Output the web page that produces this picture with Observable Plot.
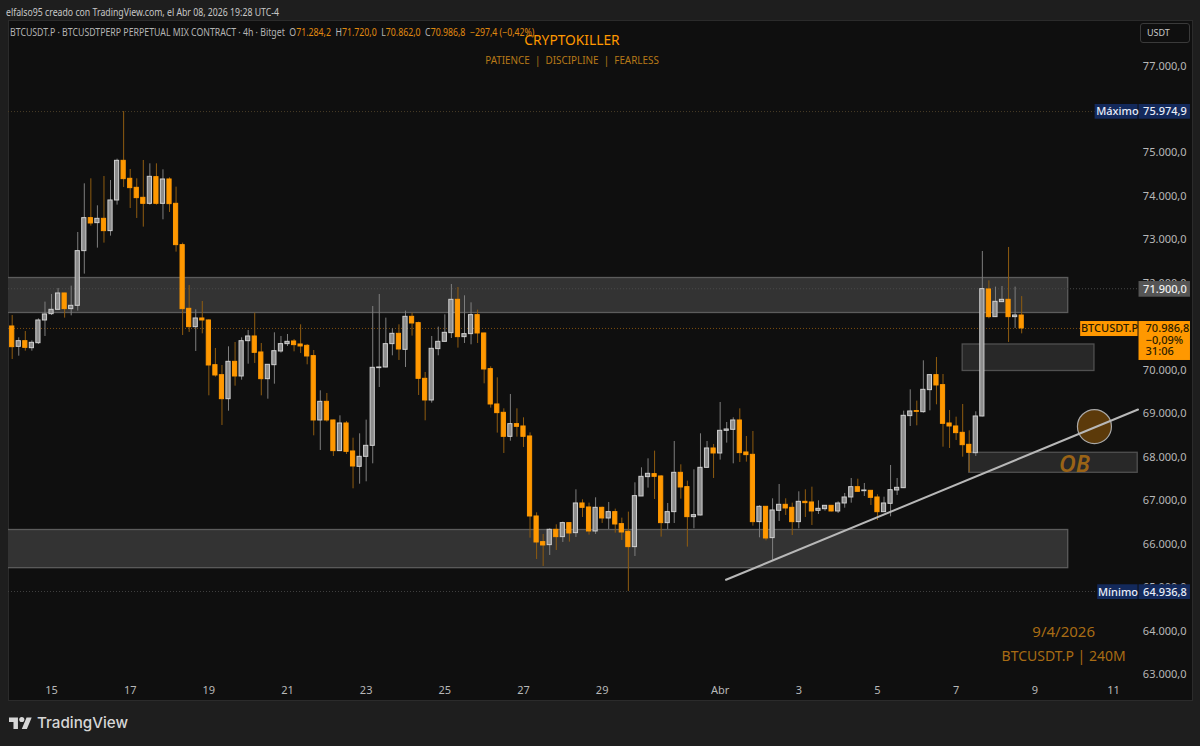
<!DOCTYPE html>
<html lang="es">
<head>
<meta charset="utf-8">
<script src="https://cdn.jsdelivr.net/npm/d3@7"></script>
<script src="https://cdn.jsdelivr.net/npm/@observablehq/plot@0.6"></script>
<style>
html,body{margin:0;padding:0;background:#1e1e1e;width:1200px;height:746px;overflow:hidden;font-family:"Noto Sans",sans-serif}
#chart{position:absolute;left:0;top:0}
.o{position:absolute;white-space:nowrap}
#made{left:6px;top:5px;font-size:10.4px;color:#c8c8c8;transform:scaleX(.84);transform-origin:left center}
#legend{left:10px;top:25px;font-size:10px;color:#b4b4b4;transform:scaleX(.875);transform-origin:left center}
#legend b{font-weight:400;color:#e08a10}
#title{left:472px;width:200px;text-align:center;top:30px;font-size:14.2px;color:#ff9800;transform:scaleX(.97)}
#sub{left:472px;width:200px;text-align:center;top:53px;font-size:10.4px;color:#b87a18;transform:scaleX(.95)}
#usdt{left:1140px;top:23px;width:48px;height:18px;border:1px solid #3a3a3a;border-radius:3px;font-size:9px;color:#c8c8c8;line-height:18px;text-indent:6px}
#logo{left:9px;top:715px}
#brand{left:37px;top:713px;font-size:15.2px;font-weight:500;color:#d6d6d6;font-family:Inter,"Noto Sans",sans-serif}
</style>
</head>
<body>
<div id="chart"></div>
<div class="o" id="made">elfalso95 creado con TradingView.com, el Abr 08, 2026 19:28 UTC-4</div>
<div class="o" id="legend">BTCUSDT.P · BTCUSDTPERP PERPETUAL MIX CONTRACT · 4h · Bitget &nbsp;O<b>71.284,2</b> &nbsp;H<b>71.720,0</b> &nbsp;L<b>70.862,0</b> &nbsp;C<b>70.986,8</b> &nbsp;<b>−297,4 (−0,42%)</b></div>
<div class="o" id="title">CRYPTOKILLER</div>
<div class="o" id="sub">PATIENCE &nbsp;|&nbsp; DISCIPLINE &nbsp;|&nbsp; FEARLESS</div>
<div class="o" id="usdt">USDT</div>
<svg class="o" id="logo" width="23" height="18" viewBox="0 0 36 28"><path fill="#d6d6d6" d="M14 22H7V11H0V4h14v18zM28 22h-8l7.5-18h8L28 22z"/><circle fill="#d6d6d6" cx="20" cy="7" r="4"/></svg>
<div class="o" id="brand">TradingView</div>
<script>
const opens = [71032,70564,70694,70533,70648,71170,71315,71415,71791,71431,
71507,72765,73524,73409,73508,73225,73930,74842,74428,74221,
73991,73853,74467,73853,74413,73853,72903,71438,71016,71216,
71170,70142,69912,69360,70219,69882,70694,70802,70434,69820,
70142,70457,70626,70687,70618,70587,70350,68870,69299,68870,
68165,68801,68157,67804,68034,68287,70074,70089,70626,70863,
70495,71254,71109,69828,69330,70511,70679,70879,71645,70787,
70856,71293,70871,70051,69238,69046,68494,68786,68732,68502,
66662,66072,66003,66355,66187,66509,66279,66961,66869,66317,
66861,66616,66762,66486,66309,65957,67122,67567,67636,67582,
66509,66762,67666,67337,66647,66685,67781,68226,68111,68632,
68655,68870,68134,68080,66532,66884,66164,66792,66930,66861,
66532,66999,66984,66792,66830,66907,66777,66961,67099,67336,
67244,67252,67099,66761,66953,67260,67313,68970,69085,69061,
69568,69913,69683,68801,68732,68586,68310,68118,68962,71883,
71247,71592,71645,71247,71284.2];
const highs = [71285,70771,70917,70702,71208,71592,71768,71906,71798,71960,
73194,74313,74428,73807,74482,74390,74881,75974.9,74643,74428,
74850,74773,74773,74635,74451,74237,72949,71975,71415,71607,
71185,70526,70135,70564,70664,70771,70940,71339,70641,70150,
70886,70802,70848,70733,71070,70618,70480,69552,69491,68878,
68977,68847,68463,68563,68878,71492,71768,71224,70978,71070,
71385,71339,71132,69974,70802,71017,71300,71998,71929,71737,
71576,71408,70879,70104,69851,69138,69468,69138,68931,68586,
66746,66248,66378,66470,66532,66516,67275,67045,66969,67091,
66877,66984,66831,66624,66762,67436,67781,67988,68165,67605,
66961,68387,67850,67475,67735,68563,68387,68318,69284,68824,
68931,69138,68502,68617,66907,66892,67068,67398,67068,66969,
67229,67275,67336,67022,66915,66907,66999,67191,67536,67520,
67421,67260,67160,67106,67835,67536,69085,69575,69315,70242,
69920,70319,69928,69100,68946,69238,68632,69069,72757,72082,
71937,71952,72849,71937,71720];
const lows = [70273,70349,70464,70464,70618,70802,71285,71400,71224,71277,
71385,72236,73340,72834,72949,73110,73823,74229,73746,73516,
73317,73823,73823,73485,73654,72742,70825,70894,70457,70863,
69437,69866,68755,69084,69659,69797,70165,70181,69437,69360,
69705,70419,70572,70449,70411,70150,68517,68180,68832,68042,
68165,68088,67298,67405,67459,67873,69629,70081,70357,70250,
70089,70810,69445,68862,69269,70357,70672,70756,70534,70641,
70610,70641,69713,69154,68579,68111,68394,68486,68249,66163,
65673,65512,65765,65880,66064,66072,66179,66639,66233,66248,
66501,66363,66279,66110,64936.8,65742,67122,67314,67053,66187,
66363,66501,67061,65957,66378,66677,67774,67536,67958,68349,
67873,67904,67912,66440,66171,66102,65650,66547,66685,66225,
66378,66639,66455,66708,66784,66769,66731,66853,66968,67221,
67122,66915,66570,66754,66654,67145,67306,68732,68747,69038,
69092,69230,68256,68226,68410,68026,67674,68042,68954,71208,
71239,71584,70664,70986,70862];
const closes = [70556,70694,70541,70656,71170,71308,71415,71791,71431,71507,
72765,73524,73401,73508,73225,73930,74842,74421,74214,73984,
73853,74474,73853,74413,73846,72903,71431,71016,71216,71170,
70135,69905,69360,70219,69882,70694,70802,70426,69820,70150,
70464,70626,70679,70603,70572,70342,68870,69299,68870,68165,
68801,68149,67812,68034,68287,70081,70089,70626,70863,70503,
71254,71101,69828,69330,70518,70679,70886,71645,70787,70856,
71293,70871,70043,69238,69039,68494,68786,68724,68494,66662,
66064,65995,66355,66187,66509,66271,66961,66861,66317,66861,
66616,66762,66478,66294,65957,67130,67574,67643,67574,66509,
66762,67666,67329,66647,66693,67781,68226,68111,68632,68663,
68870,68119,68073,66532,66884,66156,66800,66930,66846,66532,
66999,66969,66777,66838,66907,66777,66961,67099,67336,67229,
67260,67091,66761,66961,67267,67321,68977,69077,69069,69575,
69913,69675,68793,68732,68579,68302,68126,68962,71891,71247,
71599,71645,71247,71285,70986.8];

const dayTicks = [6,18,30,42,54,66,78,90,102,108,120,132,144,156,168];
const dayLabels = ["15","17","19","21","23","25","27","29","31","Abr","3","5","7","9","11"];
const shownDays = dayTicks.filter(t => t !== 102);
const priceTicks = [63000,64000,65000,66000,67000,68000,69000,70000,71000,72000,73000,74000,75000,76000,77000];

const highPrice = 75974.9, lowPrice = 64936.8, lastPrice = 70986.8, markedPrice = 71900;

const zones = [
  {x1:-3, x2:161.1, y1:71342, y2:72147, fill:"#333333", stroke:"#5c5c5c"},
  {x1:-3, x2:161.1, y1:65473, y2:66351, fill:"#333333", stroke:"#5c5c5c"},
  {x1:145.0, x2:165.1, y1:70008, y2:70618, fill:"#282828", stroke:"#505050"},
  {x1:146.0, x2:171.7, y1:67667, y2:68127, fill:"#282828", stroke:"#505050"}
];
const trend = [{x:108.9, y:65206},{x:171.75, y:69122}];
const circlePoint = [{x:165.1, y:68730}];

const tags = [
  {x1:165.2, x2:171.75, y1:75799, y2:76138, fill:"#13295b"},
  {x1:171.9, x2:179.75, y1:75799, y2:76138, fill:"#13295b"},
  {x1:165.6, x2:171.75, y1:64752, y2:65091, fill:"#13295b"},
  {x1:171.9, x2:179.75, y1:64752, y2:65091, fill:"#13295b"},
  {x1:171.9, x2:179.75, y1:71705, y2:72066, fill:"#555555"},
  {x1:163.0, x2:171.75, y1:70801, y2:71146, fill:"#ff9800"},
  {x1:171.9, x2:179.75, y1:70250, y2:71146, fill:"#ff9800"}
];
const tagNames = [
  {x:168.6, y:75970, t:"Máximo", c:"#e8edf8"},
  {x:168.7, y:64925, t:"Mínimo", c:"#e8edf8"},
  {x:167.4, y:70975, t:"BTCUSDT.P", c:"#2a1c00"}
];
const tagValues = [
  {x:179.2, y:75970, t:"75.974,9", c:"#e8edf8"},
  {x:179.2, y:64925, t:"64.936,8", c:"#e8edf8"},
  {x:179.2, y:71886, t:"71.900,0", c:"#f0f0f0"}
];
const lastLines = [
  {x:172.9, y:70975, t:"70.986,8"},
  {x:172.9, y:70715, t:"−0,09%"},
  {x:172.9, y:70450, t:"31:06"}
];
const obNote = [{x:162.06, y:67857, t:"OB"}];
const dateNote = [{x:160.4, y:63995, t:"9/4/2026"}];
const pairNote = [{x:160.4, y:63447, t:"BTCUSDT.P | 240M"}];

const candles = opens.map((o,i) => ({i, o, h:highs[i], l:lows[i], c:closes[i], up:closes[i] >= o}));
const esFmt = p => d3.format(",.1f")(p).replace(/,/g,"#").replace(".",",").replace(/#/g,".");

const chart = Plot.plot({
  width:1200, height:746,
  marginLeft:8, marginRight:8, marginTop:20, marginBottom:46,
  style:{background:"transparent", fontFamily:'"Noto Sans",sans-serif', fontSize:"11px"},
  x:{domain:[-0.564,180.06], type:"linear"},
  y:{domain:[62429.5,78069.5]},
  marks:[
    Plot.frame({fill:"#0f0f0f", stroke:"#2b2b2b"}),
    Plot.rect(zones,{x1:"x1",x2:"x2",y1:"y1",y2:"y2",fill:"fill",stroke:"stroke",strokeWidth:1.3,clip:"frame"}),
    Plot.ruleY([highPrice],{x1:-0.564,x2:165.2,stroke:"#4a3d28",strokeDasharray:"1,2",strokeWidth:1}),
    Plot.ruleY([lowPrice],{x1:-0.564,x2:165.6,stroke:"#404040",strokeDasharray:"1,2",strokeWidth:1}),
    Plot.ruleY([markedPrice],{x1:-0.564,x2:171.9,stroke:"#484848",strokeDasharray:"1,2",strokeWidth:1}),
    Plot.ruleY([lastPrice],{x1:-0.564,x2:163,stroke:"#7e4f10",strokeDasharray:"1,2",strokeWidth:1}),
    Plot.ruleX(candles,{x:"i",y1:"l",y2:"h",stroke:d=>d.up?"#7e7e7e":"#8f5c10",strokeWidth:1}),
    Plot.rect(candles,{x1:d=>d.i-0.32,x2:d=>d.i+0.32,y1:d=>Math.min(d.o,d.c),y2:d=>Math.max(d.o,d.c),
      fill:d=>d.up?"#8c8c8c":"#ff9800",stroke:d=>d.up?"#cfcfcf":"#ff9800",strokeWidth:1}),
    Plot.dot(circlePoint,{x:"x",y:"y",r:17,fill:"#5c3a0a",stroke:"#a8a8a8",strokeWidth:1.2}),
    Plot.line(trend,{x:"x",y:"y",stroke:"#b8b8b8",strokeWidth:2}),
    Plot.text(obNote,{x:"x",y:"y",text:"t",fill:"#9a6316",fontSize:23,fontStyle:"italic",fontWeight:600}),
    Plot.text(dateNote,{x:"x",y:"y",text:"t",fill:"#a86c14",fontSize:15}),
    Plot.text(pairNote,{x:"x",y:"y",text:"t",fill:"#a86c14",fontSize:14}),
    Plot.axisX({ticks:shownDays,tickFormat:d=>dayLabels[dayTicks.indexOf(d)],tickSize:0,tickPadding:-14,anchor:"bottom",color:"#b8b8b8",label:null}),
    Plot.axisY({ticks:priceTicks,tickFormat:esFmt,tickSize:0,tickPadding:-6,anchor:"right",textAnchor:"end",dy:-1,color:"#b8b8b8",label:null}),
    Plot.rect(tags,{x1:"x1",x2:"x2",y1:"y1",y2:"y2",fill:"fill"}),
    Plot.text(tagNames,{x:"x",y:"y",text:"t",fill:"c",fontWeight:500}),
    Plot.text(tagValues,{x:"x",y:"y",text:"t",fill:"c",textAnchor:"end",fontWeight:500}),
    Plot.text(lastLines,{x:"x",y:"y",text:"t",fill:"#2a1c00",textAnchor:"start",fontWeight:500})
  ]
});
document.getElementById("chart").appendChild(chart);
</script>
</body>
</html>
